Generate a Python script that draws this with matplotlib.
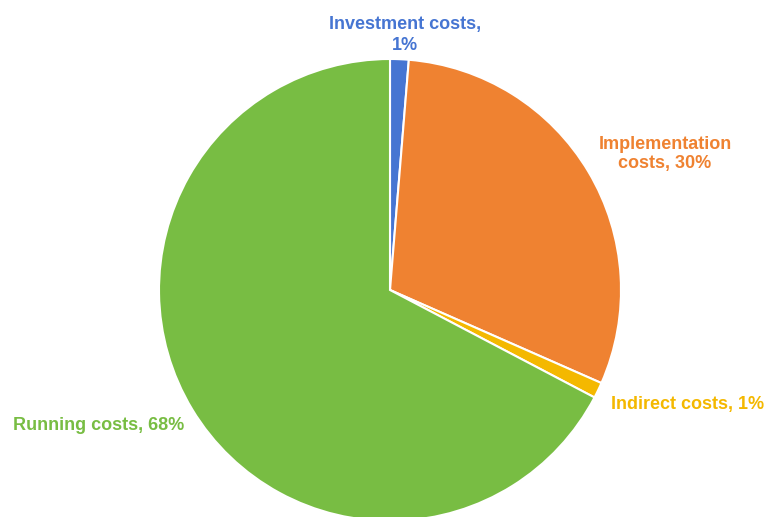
import matplotlib.pyplot as plt

plt.rcParams['font.family'] = ['Liberation Sans', 'DejaVu Sans']

# slice data, clockwise from 12 o'clock
categories = ["Investment costs", "Implementation costs", "Indirect costs", "Running costs"]
shares = [1.3, 30.3, 1.1, 67.3]
shown_pct = ["1%", "30%", "1%", "68%"]
colors = ["#4675D2", "#EF8231", "#F4B800", "#78BD43"]

fig = plt.figure(figsize=(7.65, 5.17), dpi=100)
ax = fig.add_axes([0, 0, 1, 1])

# pixel-like coordinates so the pie sits where the reference has it
ax.pie(shares, colors=colors, startangle=90, counterclock=False,
       center=(390, 227), radius=231,
       wedgeprops=dict(edgecolor="white", linewidth=1.5))
ax.set_xlim(0, 765)
ax.set_ylim(0, 517)
ax.set_aspect("equal")
ax.axis("off")

lbl = dict(fontsize=13, fontweight="bold")
ax.text(405, 482, f"{categories[0]},\n{shown_pct[0]}", color=colors[0],
        ha="center", va="center", linespacing=1.3, **lbl)
ax.text(665, 363, f"Implementation\ncosts, {shown_pct[1]}", color=colors[1],
        ha="center", va="center", linespacing=1.2, **lbl)
ax.text(611, 112, f"{categories[2]}, {shown_pct[2]}", color=colors[2],
        ha="left", va="center", **lbl)
ax.text(13, 92, f"{categories[3]}, {shown_pct[3]}", color=colors[3],
        ha="left", va="center", **lbl)

fig.savefig("out.png", dpi=100)
